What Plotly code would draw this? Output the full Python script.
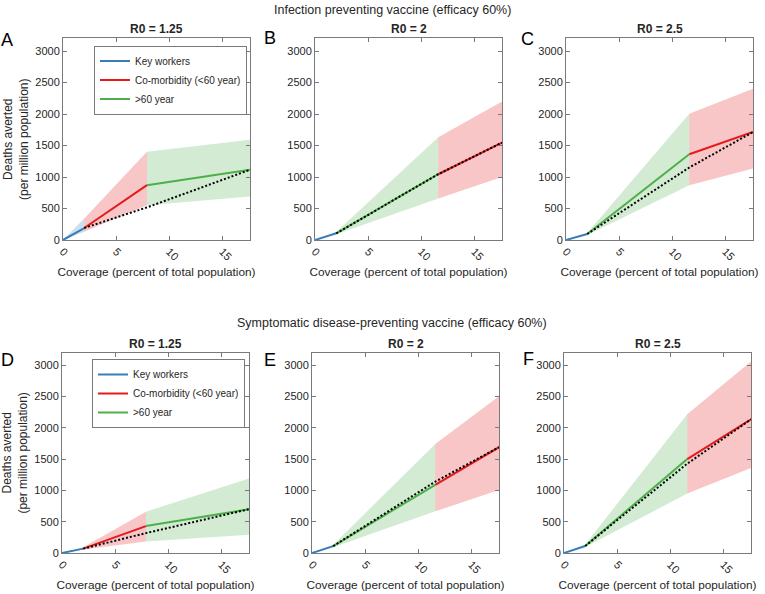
import plotly.graph_objects as go

W, H = 765, 594

# coverage break points (percent of total population)
KW_END = 2.0
MID_COMORB_FIRST = 7.9   # key workers + co-morbidity
MID_OLD_FIRST = 11.6     # key workers + >60
COV_END = 17.6

GROUPS = ['Key workers', 'Co-morbidity (<60 year)', '>60 year']
LINE_COLORS = {'Key workers': '#377eb8', 'Co-morbidity (<60 year)': '#e41a1c', '>60 year': '#4daf4a'}
BAND_COLORS = {'Key workers': 'rgba(55,126,184,0.25)',
               'Co-morbidity (<60 year)': 'rgba(228,26,28,0.25)',
               '>60 year': 'rgba(77,175,74,0.25)'}

panel_letters = ['A', 'B', 'C', 'D', 'E', 'F']
r0_labels = ['R0 = 1.25', 'R0 = 2', 'R0 = 2.5', 'R0 = 1.25', 'R0 = 2', 'R0 = 2.5']

order_a = ['Key workers', 'Co-morbidity (<60 year)', '>60 year']
order_b = ['Key workers', '>60 year', 'Co-morbidity (<60 year)']

# deaths averted (per million) at break points: 0, end of 1st, 2nd, 3rd group
# infection preventing vaccine
a_mean = [0, 190, 870, 1115]
a_upper = [0, 340, 1400, 1590]
a_lower = [0, 130, 550, 690]
a_dotted = [190, 517, 1115]

b_mean = [0, 106, 1044, 1546]
b_upper = [0, 125, 1630, 2200]
b_lower = [0, 90, 660, 1000]
b_dotted = [106, 1044, 1546]

c_mean = [0, 95, 1361, 1714]
c_upper = [0, 110, 2005, 2400]
c_lower = [0, 80, 870, 1134]
c_dotted = [95, 1150, 1714]

# symptomatic disease-preventing vaccine
d_mean = [0, 70, 430, 700]
d_upper = [0, 90, 660, 1190]
d_lower = [0, 55, 185, 290]
d_dotted = [70, 318, 700]

e_mean = [0, 110, 1090, 1690]
e_upper = [0, 130, 1742, 2505]
e_lower = [0, 90, 666, 1008]
e_dotted = [110, 1140, 1690]

f_mean = [0, 113, 1500, 2136]
f_upper = [0, 135, 2215, 3060]
f_lower = [0, 95, 950, 1358]
f_dotted = [113, 1427, 2136]

panels = [
    (order_a, MID_COMORB_FIRST, a_mean, a_upper, a_lower, a_dotted),
    (order_b, MID_OLD_FIRST, b_mean, b_upper, b_lower, b_dotted),
    (order_b, MID_OLD_FIRST, c_mean, c_upper, c_lower, c_dotted),
    (order_a, MID_COMORB_FIRST, d_mean, d_upper, d_lower, d_dotted),
    (order_b, MID_OLD_FIRST, e_mean, e_upper, e_lower, e_dotted),
    (order_b, MID_OLD_FIRST, f_mean, f_upper, f_lower, f_dotted),
]

# pixel boxes of the axes (left, right, top, bottom) and panel letter positions
boxes = [
    (63, 250, 38.4, 240), (315, 502, 38.4, 240), (566, 753, 38.4, 240),
    (62, 249, 352.7, 553), (312, 499, 352.7, 553), (564, 751, 352.7, 553),
]
letter_pos = [(7, 40), (270, 38), (527, 39), (7, 360), (270, 360), (528, 359)]

FONT = 'Liberation Sans, Arial, sans-serif'
AXIS_COL = '#7a7a7a'
TEXT_COL = '#262626'


def paper_text(fig, x, y, text, size, color=TEXT_COL):
    fig.add_annotation(x=x / W, y=1 - y / H, xref='paper', yref='paper',
                       xanchor='center', yanchor='middle', text=text, showarrow=False,
                       font=dict(family=FONT, size=size, color=color))


fig = go.Figure()

for i, (order, mid, mean, upper, lower, dotted) in enumerate(panels):
    n = '' if i == 0 else str(i + 1)
    xs = [0, KW_END, mid, COV_END]
    legend = 'legend' if i == 0 else ('legend2' if i == 3 else None)

    # uncertainty bands
    for k, grp in enumerate(order):
        fig.add_trace(go.Scatter(
            x=[xs[k], xs[k + 1], xs[k + 1], xs[k]],
            y=[lower[k], lower[k + 1], upper[k + 1], upper[k]],
            fill='toself', fillcolor=BAND_COLORS[grp], mode='none',
            hoverinfo='skip', showlegend=False,
            xaxis='x' + n, yaxis='y' + n))

    # mean lines, legend entries in fixed group order
    for grp in GROUPS:
        k = order.index(grp)
        fig.add_trace(go.Scatter(
            x=[xs[k], xs[k + 1]], y=[mean[k], mean[k + 1]],
            mode='lines', line=dict(color=LINE_COLORS[grp], width=2),
            name=grp, showlegend=legend is not None,
            legend=legend if legend else 'legend',
            xaxis='x' + n, yaxis='y' + n))

    # alternative strategy (black dotted)
    fig.add_trace(go.Scatter(
        x=xs[1:], y=dotted, mode='lines',
        line=dict(color='black', width=2, dash='2px,2px'),
        showlegend=False, hoverinfo='skip',
        xaxis='x' + n, yaxis='y' + n))

    l, r, t, b = boxes[i]
    xa = dict(
        domain=[l / W, r / W], range=[0, COV_END], anchor='y' + n, automargin=False,
        tickvals=[0, 5, 10, 15], tickangle=45, ticks='inside', ticklen=4,
        showline=True, linecolor=AXIS_COL, mirror='ticks', tickcolor=AXIS_COL,
        showgrid=False, zeroline=False,
        tickfont=dict(family=FONT, size=11, color=TEXT_COL),
        title=dict(text='Coverage (percent of total population)', standoff=6,
                   font=dict(family=FONT, size=11.8, color=TEXT_COL)),
    )
    ya = dict(
        domain=[1 - b / H, 1 - t / H], range=[0, 3200], anchor='x' + n, automargin=False,
        tickvals=[0, 500, 1000, 1500, 2000, 2500, 3000], ticks='inside', ticklen=4,
        showline=True, linecolor=AXIS_COL, mirror='ticks', tickcolor=AXIS_COL,
        showgrid=False, zeroline=False,
        tickfont=dict(family=FONT, size=11, color=TEXT_COL),
    )
    if i in (0, 3):
        ya['title'] = dict(text='Deaths averted<br>(per million population)', standoff=4,
                           font=dict(family=FONT, size=12, color=TEXT_COL))
    fig.layout['xaxis' + n] = xa
    fig.layout['yaxis' + n] = ya

    # subplot title and panel letter
    paper_text(fig, (l + r) / 2, t - 9, '<b>' + r0_labels[i] + '</b>', 12)
    paper_text(fig, letter_pos[i][0], letter_pos[i][1], panel_letters[i], 18, 'black')

paper_text(fig, 393, 10, 'Infection preventing vaccine (efficacy 60%)', 12.5)
paper_text(fig, 392, 323, 'Symptomatic disease-preventing vaccine (efficacy 60%)', 12.5)

legend_style = dict(
    xanchor='right', yanchor='top', bgcolor='white', bordercolor=AXIS_COL, borderwidth=1,
    font=dict(family=FONT, size=10, color=TEXT_COL), tracegroupgap=0, itemwidth=30,
)
fig.update_layout(
    width=W, height=H, margin=dict(l=0, r=0, t=0, b=0),
    paper_bgcolor='white', plot_bgcolor='white',
    legend=dict(x=247 / W, y=1 - 45.5 / H, **legend_style),
    legend2=dict(x=245 / W, y=1 - 359 / H, **legend_style),
)

# drop the browser's default page margin so the figure sits at the top-left corner
fig.write_html('out.html', config={'displayModeBar': False},
               post_script="document.body.style.margin='0';")
